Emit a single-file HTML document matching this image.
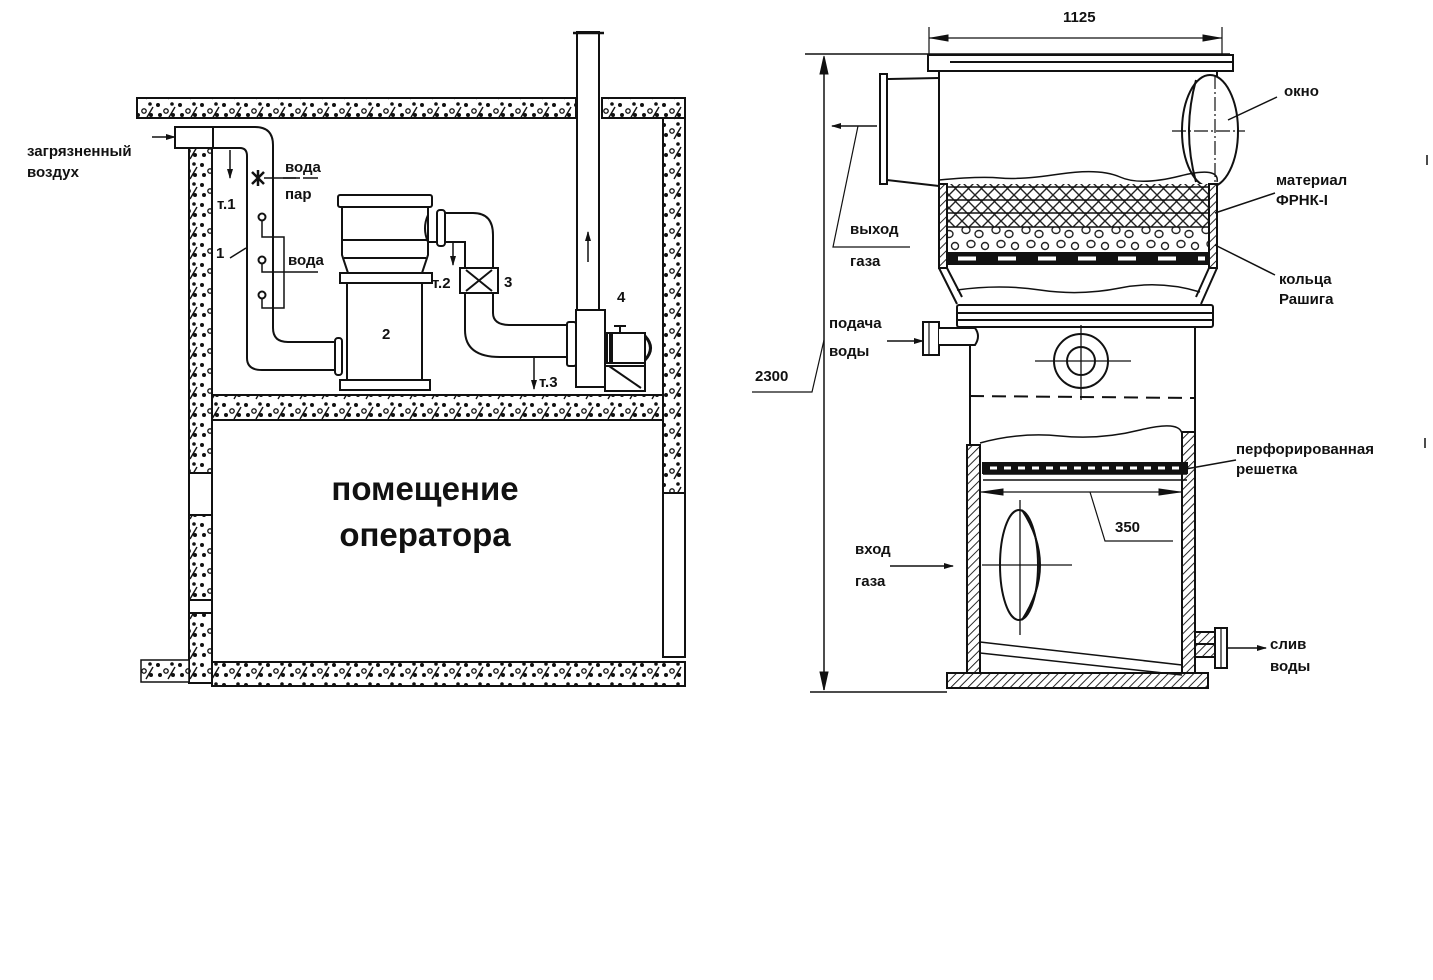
<!DOCTYPE html>
<html><head><meta charset="utf-8"><style>
html,body{margin:0;padding:0;background:#fff}
svg{display:block}
text{font-family:"Liberation Sans",sans-serif;font-weight:bold;fill:#111}
</style></head><body>
<svg width="1433" height="980" viewBox="0 0 1433 980" xmlns="http://www.w3.org/2000/svg">
<defs>
<pattern id="conc" width="22" height="20" patternUnits="userSpaceOnUse">
<rect width="22" height="20" fill="#fff"/>
<circle cx="4" cy="5" r="2" fill="#111"/><circle cx="12" cy="11" r="2.2" fill="none" stroke="#111" stroke-width="1.3"/>
<circle cx="18" cy="4" r="1.8" fill="#111"/><circle cx="6" cy="15" r="2" fill="#111"/>
<circle cx="19" cy="15" r="2" fill="#111"/><path d="M14 19 L21 7" stroke="#111" stroke-width="1.4"/>
</pattern>
<pattern id="hatch" width="6" height="6" patternUnits="userSpaceOnUse" patternTransform="rotate(45)">
<rect width="6" height="6" fill="#fff"/><line x1="0" y1="0" x2="0" y2="6" stroke="#111" stroke-width="1.8"/>
</pattern>
<pattern id="xh" width="26" height="13" patternUnits="userSpaceOnUse">
<rect width="26" height="13" fill="#fff"/><path d="M0 0 L13 13 M13 0 L26 13 M13 0 L0 13 M26 0 L13 13" stroke="#222" stroke-width="1.4" fill="none"/>
</pattern>
<pattern id="rings" width="30" height="28" patternUnits="userSpaceOnUse">
<rect width="30" height="28" fill="#fff"/>
<ellipse cx="6" cy="6" rx="4" ry="3.5" fill="none" stroke="#222" stroke-width="1.4"/>
<ellipse cx="19" cy="10" rx="4" ry="3.5" fill="none" stroke="#222" stroke-width="1.4"/>
<ellipse cx="11" cy="20" rx="4" ry="3.5" fill="none" stroke="#222" stroke-width="1.4"/>
<ellipse cx="25" cy="22" rx="3.5" ry="3.5" fill="none" stroke="#222" stroke-width="1.4"/>
</pattern>
<marker id="ah" markerWidth="10" markerHeight="8" refX="9" refY="4" orient="auto" markerUnits="userSpaceOnUse">
<path d="M0 1 L10 4 L0 7 Z" fill="#111"/></marker>
</defs>
<g stroke="#111" stroke-width="2" fill="none">
<rect x="137" y="98" width="439" height="20" fill="url(#conc)"/>
<rect x="602" y="98" width="83" height="20" fill="url(#conc)"/>
<rect x="663" y="118" width="22" height="375" fill="url(#conc)"/>
<rect x="663" y="493" width="22" height="164" fill="#fff"/>
<rect x="189" y="148" width="23" height="325" fill="url(#conc)"/>
<rect x="189" y="473" width="23" height="42" fill="#fff"/>
<rect x="189" y="515" width="23" height="85" fill="url(#conc)"/>
<rect x="189" y="600" width="23" height="13" fill="#fff"/>
<rect x="189" y="613" width="23" height="70" fill="url(#conc)"/>
<rect x="212" y="395" width="451" height="25" fill="url(#conc)"/>
<rect x="212" y="662" width="473" height="24" fill="url(#conc)"/>
<rect x="141" y="660" width="48" height="22" fill="url(#conc)" stroke-width="1.5"/>
<rect x="175" y="127" width="38" height="21" fill="#fff"/>
<path d="M213 127 L255 127 Q273 127 273 145 L273 328 Q273 342 288 342 L337 342"/>
<path d="M213 148 L240 148 Q247 148 247 156 L247 358 Q247 370 262 370 L337 370"/>
<path d="M152 137 L175 137" marker-end="url(#ah)" stroke-width="1.5"/>
<rect x="335" y="338" width="7" height="37" rx="3" fill="#fff"/>
<path d="M230 150 L230 178" marker-end="url(#ah)" stroke-width="1.5"/>
<path d="M252 172 L264 184 M264 172 L252 184 M258 170 L258 186" stroke-width="2.5"/>
<path d="M264 178 L300 178" stroke-width="1.5"/>
<circle cx="262" cy="217" r="3.5" fill="#fff"/><circle cx="262" cy="260" r="3.5" fill="#fff"/><circle cx="262" cy="295" r="3.5" fill="#fff"/>
<path d="M262 221 L262 237 L284 237 L284 308 L262 308 L262 299 M262 264 L262 272 L318 272" stroke-width="1.5"/>
<path d="M230 258 L246 248" stroke-width="1.5"/>
<path d="M283 178 L296 178 M303 178 L318 178" stroke-width="1.5"/>
<rect x="338" y="195" width="94" height="12" rx="2" fill="#fff"/>
<path d="M342 207 L342 255 L348 273 M428 207 L428 255 L422 273 M342 240 L428 240 M344 258 L426 258"/>
<rect x="340" y="273" width="92" height="10" fill="#fff"/>
<rect x="347" y="283" width="75" height="97" fill="#fff"/>
<rect x="340" y="380" width="90" height="10" fill="#fff"/>
<path d="M428 215 Q422 228 428 242 L437 242"/>
<rect x="437" y="210" width="8" height="36" rx="3" fill="#fff"/>
<path d="M445 213 L473 213 Q493 213 493 235 L493 313 Q493 325 510 325 L567 325"/>
<path d="M445 242 L465 242 L465 330 Q465 357 500 357 L567 357"/>
<rect x="460" y="268" width="38" height="25" fill="#fff"/>
<path d="M466 270 L492 291 M492 270 L466 291" />
<path d="M453 243 L453 265" marker-end="url(#ah)" stroke-width="1.5"/>
<path d="M534 358 L534 389" marker-end="url(#ah)" stroke-width="1.5"/>
<rect x="567" y="322" width="9" height="44" rx="2" fill="#fff"/>
<rect x="577" y="32" width="22" height="280" fill="#fff"/>
<path d="M573 33 L604 33" stroke-width="2.5"/>
<rect x="576" y="310" width="29" height="77" fill="#fff"/>
<path d="M588 262 L588 232" marker-end="url(#ah)" stroke-width="1.5"/>
<rect x="607" y="333" width="38" height="30" fill="#fff"/>
<path d="M645 336 Q656 348 645 360" stroke-width="3"/>
<path d="M611 333 L611 363" stroke-width="4"/>
<path d="M620 333 L620 326 M614 326 L626 326" stroke-width="2"/>
<rect x="605" y="363" width="40" height="28" fill="#fff"/>
<path d="M609 366 L641 388 M605 366 L645 366"/>
<path d="M805 54 L1230 54" stroke-width="1.5"/>
<path d="M824 60 L824 690" stroke-width="1.5"/>
<path d="M824 56 L820 74 L828 74 Z M824 690 L820 672 L828 672 Z" fill="#111" stroke-width="1"/>
<path d="M810 692 L947 692" stroke-width="1.5"/>
<path d="M824 340 L812 392 L752 392" stroke-width="1.2"/>
<path d="M929 27 L929 60 M1222 27 L1222 60 M929 38 L1222 38" stroke-width="1.2"/>
<path d="M931 38 L948 35 L948 41 Z M1220 38 L1203 35 L1203 41 Z" fill="#111" stroke-width="1"/>
<rect x="928" y="55" width="305" height="16" fill="#fff"/>
<path d="M950 62 L1233 62"/>
<path d="M939 71 L939 184 M1217 71 L1217 184"/>
<rect x="880" y="74" width="7" height="110" fill="#fff"/>
<path d="M887 79 L939 78 M887 180 L939 186"/>
<path d="M877 126 L832 126" marker-end="url(#ah)" stroke-width="1.5"/>
<path d="M858 126 L833 247 L910 247" stroke-width="1.2"/>
<ellipse cx="1210" cy="131" rx="28" ry="56" fill="#fff"/>
<path d="M1196 80 Q1182 131 1196 182" />
<path d="M1215 75 L1215 187 M1172 131 L1245 131" stroke-width="1.2" stroke-dasharray="14 3 2 3"/>
<path d="M1228 120 L1277 97" stroke-width="1.5"/>
<path d="M939 180 Q980 176 1000 178 T1060 174 T1120 177 T1180 176 T1217 182" stroke-width="1.5"/>
<rect x="947" y="184" width="262" height="43" fill="url(#xh)" stroke="none"/>
<rect x="947" y="227" width="262" height="26" fill="url(#rings)" stroke="none"/>
<path d="M939 187 L1217 187 M947 200 L1209 200 M947 213 L1209 213 M947 227 L1209 227" stroke-width="1.5"/>
<rect x="947" y="253" width="262" height="11" fill="#111"/>
<path d="M958 258.5 L1205 258.5" stroke="#fff" stroke-width="4" stroke-dasharray="18 22"/>
<path d="M939 184 L939 268 L947 268 L947 184 Z M1217 184 L1217 268 L1209 268 L1209 184 Z" fill="url(#hatch)"/>
<path d="M939 268 L957 304 M947 268 L962 297 M1217 268 L1201 304 M1209 268 L1196 297"/>
<path d="M957 290 Q1000 284 1040 290 T1120 288 T1200 292" stroke-width="1.5"/>
<rect x="957" y="305" width="256" height="22" rx="2" fill="#fff"/>
<path d="M957 313 L1213 313 M957 320 L1213 320"/>
<path d="M970 327 L970 447 M1195 327 L1195 432"/>
<path d="M970 396 L1195 398" stroke-dasharray="14 8"/>
<circle cx="1081" cy="361" r="27" fill="#fff"/><circle cx="1081" cy="361" r="14"/>
<path d="M1035 361 L1131 361 M1081 325 L1081 400" stroke-width="1.3"/>
<rect x="923" y="322" width="16" height="33" fill="#fff"/><path d="M929 322 L929 355" stroke-width="1.2"/>
<path d="M939 328 L975 328 Q981 336 975 345 L939 345" fill="#fff"/>
<path d="M887 341 L923 341" marker-end="url(#ah)" stroke-width="1.5"/>
<path d="M980 443 Q1020 432 1060 436 T1140 430 T1182 434" stroke-width="1.5"/>
<rect x="967" y="445" width="13" height="228" fill="url(#hatch)"/>
<rect x="1182" y="432" width="13" height="241" fill="url(#hatch)"/>
<rect x="947" y="673" width="261" height="15" fill="url(#hatch)"/>
<rect x="983" y="463" width="204" height="10" fill="#111"/>
<path d="M990 468 L1182 468" stroke="#fff" stroke-width="3" stroke-dasharray="7 7"/>
<path d="M983 474 L1187 474 M983 480 L1187 480" stroke-width="1.5"/>
<path d="M980 492 L1182 492" stroke-width="1.2"/>
<path d="M982 492 L1003 489 L1003 495 Z M1180 492 L1159 489 L1159 495 Z" fill="#111" stroke-width="1"/>
<path d="M1090 492 L1105 541 L1173 541" stroke-width="1.2"/>
<ellipse cx="1019" cy="565" rx="19" ry="55" fill="#fff"/>
<path d="M1022 510 Q1058 565 1022 620"/>
<path d="M982 565 L1072 565 M1020 500 L1020 635" stroke-width="1.3"/>
<path d="M890 566 L953 566" marker-end="url(#ah)" stroke-width="1.5"/>
<path d="M980 642 L1182 665 M980 653 L1182 675" stroke-width="1.5"/>
<rect x="1195" y="632" width="20" height="25" fill="url(#hatch)"/>
<path d="M1195 644 L1215 644"/>
<rect x="1215" y="628" width="12" height="40" fill="#fff"/><path d="M1221 628 L1221 668" stroke-width="1.2"/>
<path d="M1227 648 L1266 648" marker-end="url(#ah)" stroke-width="1.5"/>
<path d="M1215 213 L1275 193 M1215 245 L1275 275 M1180 470 L1236 460" stroke-width="1.5"/>
<path d="M1427 155 L1427 165 M1425 438 L1425 448" stroke-width="1.5"/>
</g>
<g font-size="15">
<text x="27" y="156">загрязненный</text>
<text x="27" y="177">воздух</text>
<text x="217" y="209">т.1</text>
<text x="285" y="172">вода</text>
<text x="285" y="199">пар</text>
<text x="216" y="258">1</text>
<text x="288" y="265">вода</text>
<text x="432" y="288">т.2</text>
<text x="504" y="287">3</text>
<text x="382" y="339">2</text>
<text x="617" y="302">4</text>
<text x="539" y="387">т.3</text>
<text x="1063" y="22">1125</text>
<text x="1284" y="96">окно</text>
<text x="1276" y="185">материал</text>
<text x="1276" y="205">ФРНК-I</text>
<text x="1279" y="284">кольца</text>
<text x="1279" y="304">Рашига</text>
<text x="850" y="234">выход</text>
<text x="850" y="266">газа</text>
<text x="829" y="328">подача</text>
<text x="829" y="356">воды</text>
<text x="755" y="381">2300</text>
<text x="1236" y="454">перфорированная</text>
<text x="1236" y="474">решетка</text>
<text x="1115" y="532">350</text>
<text x="855" y="554">вход</text>
<text x="855" y="586">газа</text>
<text x="1270" y="649">слив</text>
<text x="1270" y="671">воды</text>
</g>
<text x="425" y="500" font-size="33" text-anchor="middle">помещение</text>
<text x="425" y="546" font-size="33" text-anchor="middle">оператора</text>
</svg>
</body></html>
